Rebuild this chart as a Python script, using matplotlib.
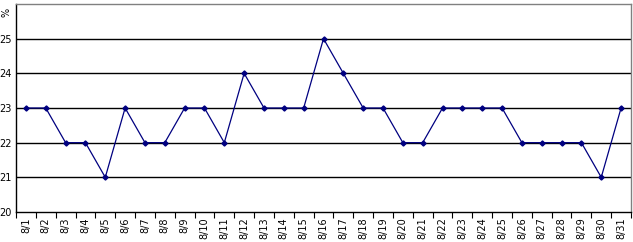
import matplotlib
matplotlib.use("Agg")
import matplotlib.pyplot as plt
import numpy as np

DAYS = [f"8/{d}" for d in range(1, 32)]
VALUES = [23, 23, 22, 22, 21, 23, 22, 22, 23, 23, 22, 24, 23, 23, 23, 25,
          24, 23, 23, 22, 22, 23, 23, 23, 23, 22, 22, 22, 22, 21, 23]
Y_TICKS = [20, 21, 22, 23, 24, 25]

LINE_COLOR = "#000080"


def main() -> None:
	plt.rcParams["font.family"] = ["DejaVu Sans"]
	fig = plt.figure(figsize=(6.33, 2.42), dpi=100)
	ax = fig.add_axes([16 / 633, 30 / 242, 615 / 633, 208 / 242])

	x = np.arange(len(DAYS))
	ax.plot(x, VALUES, color=LINE_COLOR, linewidth=0.9, marker="D", markersize=2.6,
		markerfacecolor=LINE_COLOR, markeredgecolor=LINE_COLOR)

	ax.set_xlim(-0.5, len(DAYS) - 0.5)
	ax.set_ylim(20, 26)

	for y in Y_TICKS[1:]:
		ax.axhline(y, color="black", linewidth=1.0, zorder=0)

	ax.set_yticks(Y_TICKS)
	ax.set_yticklabels([str(v) for v in Y_TICKS], fontsize=7)
	ax.tick_params(axis="y", length=0, pad=3)

	ax.set_xticks(x)
	ax.set_xticklabels(DAYS, rotation=90, fontsize=7)
	ax.tick_params(axis="x", which="major", length=0, pad=4)
	ax.set_xticks(np.arange(len(DAYS) + 1) - 0.5, minor=True)
	ax.tick_params(axis="x", which="minor", length=4, width=0.8, color="black", direction="out")

	ax.spines["left"].set_color("black")
	ax.spines["bottom"].set_color("black")
	ax.spines["top"].set_color("#808080")
	ax.spines["right"].set_color("#808080")
	for sp in ax.spines.values():
		sp.set_linewidth(1.0)

	fig.text(7 / 633, 1 - 12 / 242, "%", fontsize=7, rotation=90, ha="center", va="center")

	fig.savefig("out.png", dpi=100)
	plt.close(fig)


if __name__ == "__main__":
	main()
